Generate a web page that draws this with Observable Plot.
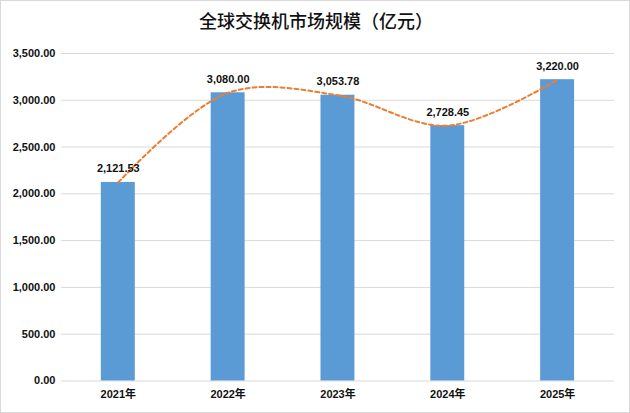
<!DOCTYPE html>
<html><head><meta charset="utf-8">
<script src="https://cdn.jsdelivr.net/npm/d3@7"></script>
<script src="https://cdn.jsdelivr.net/npm/@observablehq/plot@0.6"></script>
<style>
html,body{margin:0;padding:0;background:#fff;}
#wrap{position:relative;width:630px;height:413px;box-sizing:border-box;border:1px solid #d9d9d9;overflow:hidden;}
#title{position:absolute;left:0;top:6px;width:630px;text-align:center;font-family:"Noto Sans CJK SC",sans-serif;font-size:18px;font-weight:500;color:#111;}
#chart{position:absolute;left:-1px;top:39px;}
</style></head>
<body><div id="wrap"><div id="title">全球交换机市场规模（亿元）</div><div id="chart"></div></div>
<script>
const years = ["2021年","2022年","2023年","2024年","2025年"];
const values = [2121.53, 3080.00, 3053.78, 2728.45, 3220.00];
const yTicks = [0,500,1000,1500,2000,2500,3000,3500];
const data = years.map((y,i)=>({year:y, value:values[i]}));
const fmt = d3.format(",.2f");
const font = "'Liberation Sans', 'Noto Sans CJK SC', sans-serif";
const chart = Plot.plot({
  width: 630, height: 374,
  marginLeft: 61, marginRight: 15, marginTop: 13, marginBottom: 33,
  style: {fontFamily: font, fontSize: "11px", color: "#111", background: "transparent"},
  x: {domain: years, paddingInner: 0.69, paddingOuter: 0.345, label: null, tickSize: 0, tickPadding: 9},
  y: {domain: [0,3500], ticks: yTicks, tickFormat: fmt, label: null, tickSize: 0, tickPadding: 6},
  marks: [
    Plot.ruleY(yTicks, {stroke: "#d9d9d9", strokeWidth: 1}),
    Plot.barY(data, {x: "year", y: "value", fill: "#5B9BD5"}),
    Plot.line(data, {x: "year", y: "value", stroke: "#ED7D31", strokeWidth: 2, strokeDasharray: "4,3", curve: "catmull-rom"}),
    Plot.text(data, {x: "year", y: "value", text: d => fmt(d.value), dy: -10, lineAnchor: "bottom", fontWeight: "bold", fontSize: 11, fill: "#111"})
  ]
});
chart.querySelectorAll("[aria-label='x-axis tick label'], [aria-label='y-axis tick label']").forEach(g=>g.setAttribute("font-weight","bold"));
document.getElementById("chart").appendChild(chart);
</script></body></html>
